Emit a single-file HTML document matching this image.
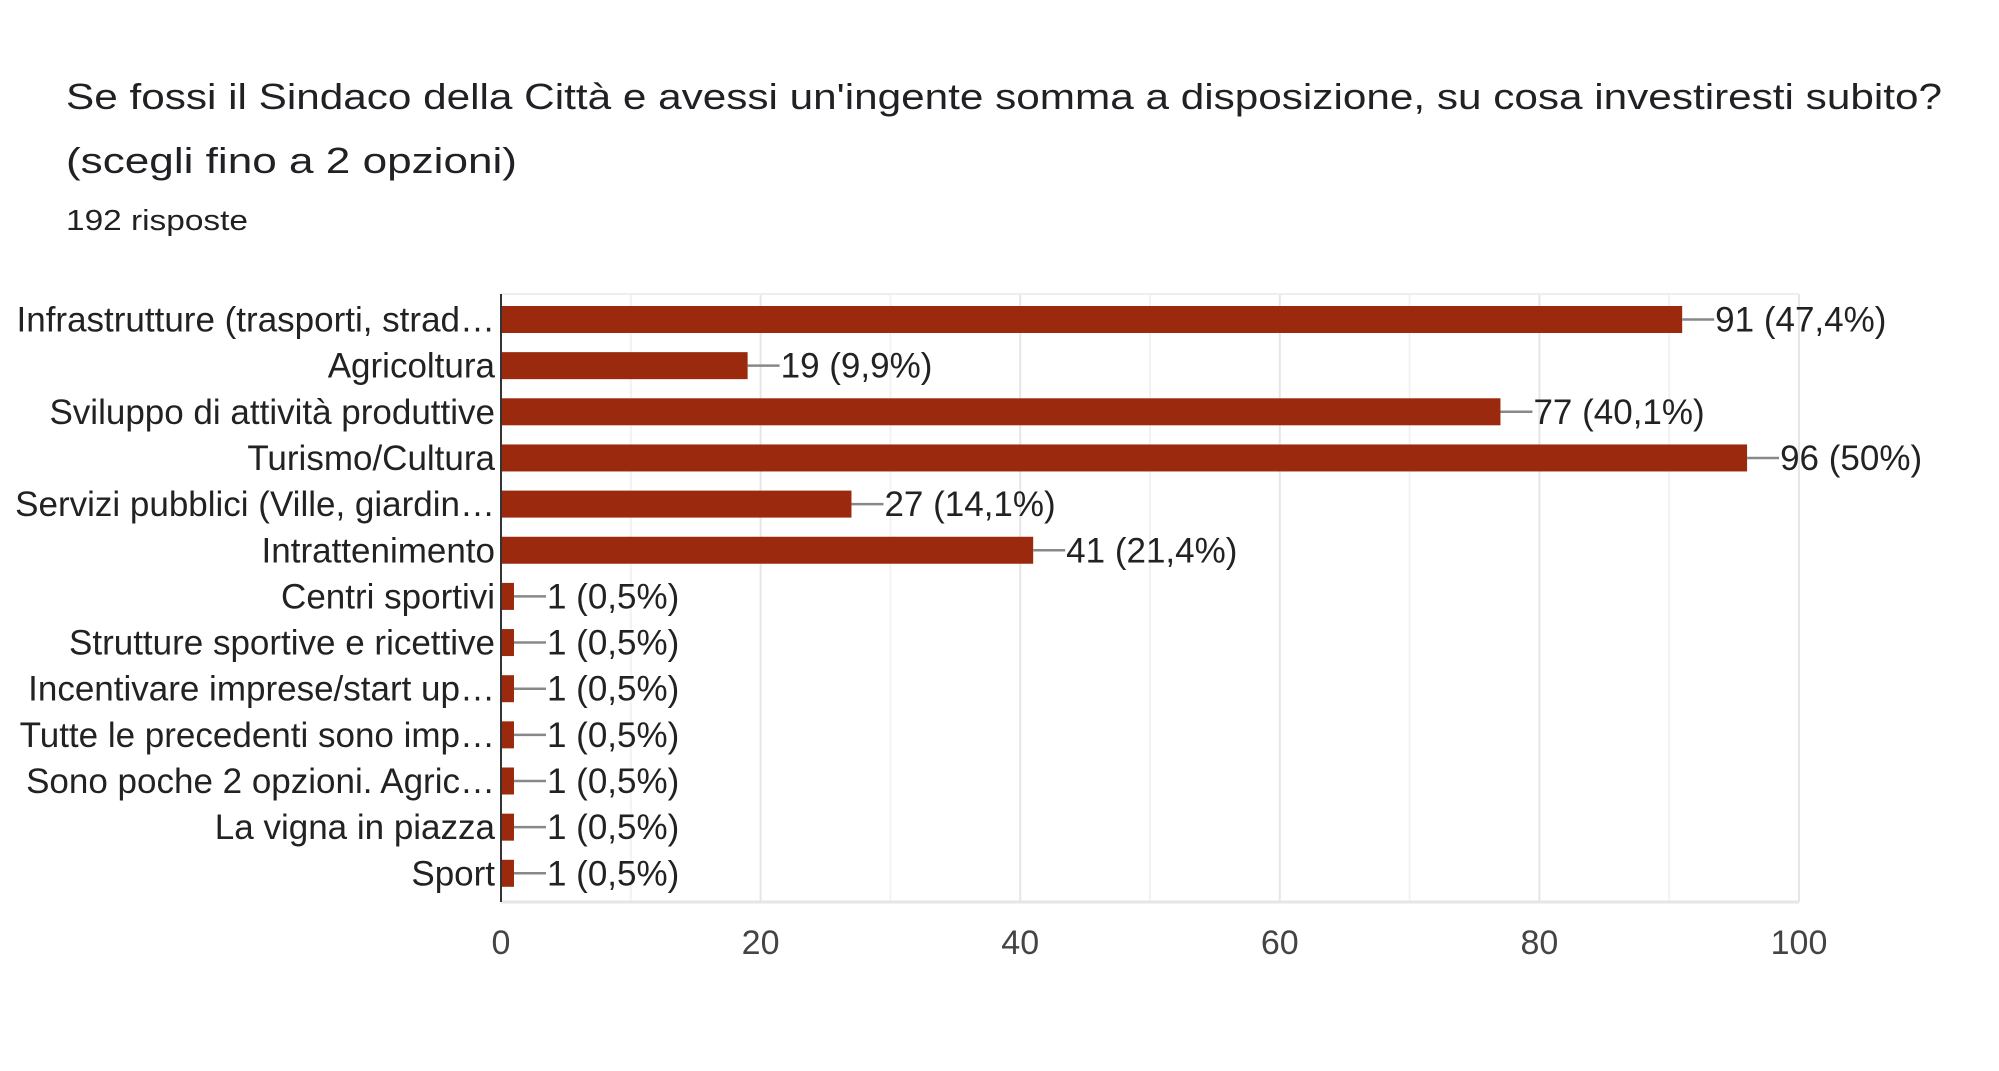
<!DOCTYPE html>
<html><head><meta charset="utf-8"><style>
html,body{margin:0;padding:0;background:#fff;width:1999px;height:1071px;overflow:hidden}
svg{display:block;font-family:"Liberation Sans",Arial,sans-serif}
</style></head><body>
<svg id="chart" width="1999" height="1071" viewBox="0 0 1999 1071" xmlns="http://www.w3.org/2000/svg">
<text x="66" y="109" font-size="36" fill="#202124" textLength="1876" lengthAdjust="spacingAndGlyphs">Se fossi il Sindaco della Città e avessi un'ingente somma a disposizione, su cosa investiresti subito?</text>
<text x="66" y="173" font-size="36" fill="#202124" textLength="451" lengthAdjust="spacingAndGlyphs">(scegli fino a 2 opzioni)</text>
<text x="66" y="230" font-size="29" fill="#202124" textLength="182" lengthAdjust="spacingAndGlyphs">192 risposte</text>
<g id="grid"></g><g id="bars"></g><g id="labels"></g>
</svg>
<script>
const categories = ["Infrastrutture (trasporti, strad…","Agricoltura","Sviluppo di attività produttive","Turismo/Cultura","Servizi pubblici (Ville, giardin…","Intrattenimento","Centri sportivi","Strutture sportive e ricettive","Incentivare imprese/start up…","Tutte le precedenti sono imp…","Sono poche 2 opzioni. Agric…","La vigna in piazza","Sport"];
const values = [91,19,77,96,27,41,1,1,1,1,1,1,1];
const valueLabels = ["91 (47,4%)","19 (9,9%)","77 (40,1%)","96 (50%)","27 (14,1%)","41 (21,4%)","1 (0,5%)","1 (0,5%)","1 (0,5%)","1 (0,5%)","1 (0,5%)","1 (0,5%)","1 (0,5%)"];
const ticks = [0,20,40,60,80,100];
const NS="http://www.w3.org/2000/svg";
const x0=501,x1=1799,plotTop=294,plotBottom=902,row0=319.5,step=46.15,barH=27;
const xs=v=>x0+(v/100)*(x1-x0);
const ys=i=>row0+i*step;
function mk(tag,attrs,parent){const e=document.createElementNS(NS,tag);for(const k in attrs)e.setAttribute(k,attrs[k]);parent.appendChild(e);return e;}
const grid=document.getElementById('grid'),bars=document.getElementById('bars'),labels=document.getElementById('labels');
for(let v=10;v<=100;v+=10){
  const l=mk('line',{x1:xs(v),x2:xs(v),y1:plotTop,y2:plotBottom,stroke:v%20===0?'#e6e6e6':'#f2f2f2','stroke-width':2},grid);
  
  
}
const tb=mk('line',{x1:x0,x2:x1,y1:plotTop,y2:plotTop,stroke:'#eeeeee','stroke-width':2},grid);


const bb=mk('line',{x1:x0,x2:x1,y1:plotBottom,y2:plotBottom,stroke:'#e6e6e6','stroke-width':3},grid);


ticks.forEach(t=>{
  const e=mk('text',{x:xs(t),y:954,'font-size':34,fill:'#444','text-anchor':'middle'},labels);
  e.textContent=t;
  
  
});
categories.forEach((c,i)=>{
  const y=ys(i);
  const r=mk('rect',{x:x0,y:y-barH/2,width:xs(values[i])-x0,height:barH,fill:'#9a290d'},bars);
  
  
  const ex=xs(values[i]);
  const ln=mk('line',{x1:ex,x2:ex+32,y1:y,y2:y,stroke:'#888','stroke-width':2.5},bars);
  
  
  const vt=mk('text',{x:ex+33,y:y+12,'font-size':35,fill:'#222'},labels);
  vt.textContent=valueLabels[i];
  
  
  const ct=mk('text',{x:495,y:y+12,'font-size':35,fill:'#222','text-anchor':'end'},labels);
  ct.textContent=c;
  
  
});
const ax=mk('line',{x1:x0,x2:x0,y1:plotTop,y2:plotBottom,stroke:'#333','stroke-width':2},bars);


</script>
</body></html>
